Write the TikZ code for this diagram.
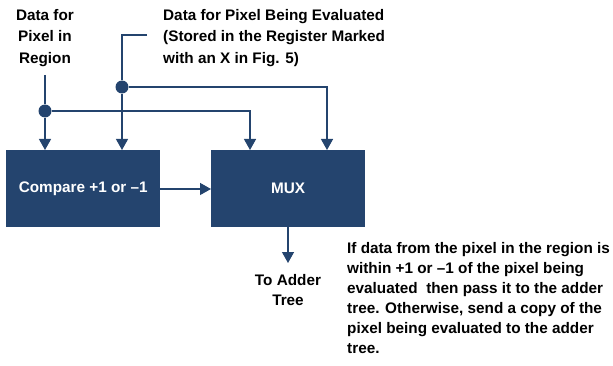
\documentclass[tikz,border=0pt]{standalone}
\usepackage{fontspec}
\setmainfont{Liberation Sans}
\usetikzlibrary{arrows.meta}
\definecolor{navy}{HTML}{24446E}
\begin{document}
\begin{tikzpicture}[x=1pt,y=-1pt,
  blk/.style={fill=navy,draw=none,text=white,font=\bfseries\fontsize{15.3}{18}\selectfont},
  wire/.style={draw=navy,line width=1.3pt},
  arr/.style={wire,-{Triangle[width=12pt,length=11pt]}},
  dot/.style={circle,fill=navy,inner sep=0pt,minimum size=13pt},
  lbl/.style={font=\bfseries\fontsize{15.3}{21.5}\selectfont,inner sep=0pt},
  note/.style={font=\bfseries\fontsize{15.3}{20}\selectfont,inner sep=0pt}]
\useasboundingbox (0,0) rectangle (613,366);
\node[blk,minimum width=154pt,minimum height=77pt,anchor=north west] (cmp) at (6,150) {Compare +1 or --1};
\node[blk,minimum width=154pt,minimum height=77pt,anchor=north west] (mux) at (211,150) {MUX};
\node[lbl,align=center,anchor=north] (reg) at (45,9) {Data for\\Pixel in\\Region};
\node[lbl,align=left,anchor=north west] (pbe) at (163,9) {Data for Pixel Being Evaluated\\(Stored in the Register Marked\\with an X in Fig. 5)};
\node[dot] (d1) at (45,111) {};
\node[dot] (d2) at (122,87) {};
\coordinate (r0) at (45,75);
\coordinate (p0) at (147,35);
\coordinate (p1) at (122,35);
\coordinate (c1) at (45,150);
\coordinate (c2) at (122,150);
\coordinate (m1) at (250,150);
\coordinate (m2) at (327,150);
\draw[wire] (r0) -- (d1);
\draw[wire] (p0) -- (p1) -- (d2);
\draw[arr] (d1) -- (c1);
\draw[arr] (d2) -- (c2);
\draw[arr] (d1) -| (m1);
\draw[arr] (d2) -| (m2);
\draw[arr] (cmp.east |- 0,189) -- (mux.west |- 0,189);
\coordinate (t) at (288,263);
\draw[arr] (mux.south -| t) -- (t);
\node[note,align=center,anchor=north] (tat) at (288,274) {To Adder\\Tree};
\node[note,align=left,anchor=north west] (note) at (347,242) {If data from the pixel in the region is\\within +1 or --1 of the pixel being\\evaluated\ \ then pass it to the adder\\tree. Otherwise, send a copy of the\\pixel being evaluated to the adder\\tree.};
\end{tikzpicture}
\end{document}
